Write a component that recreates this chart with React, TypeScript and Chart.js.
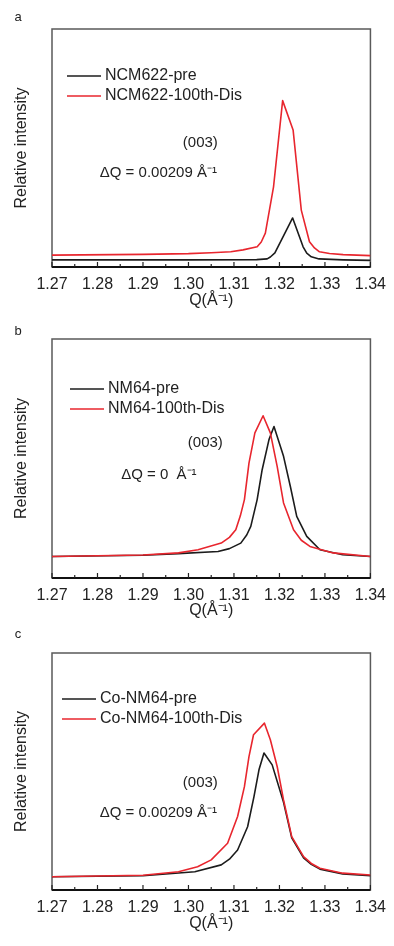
import React, { useEffect, useRef } from "react";
import { Chart, registerables } from "chart.js";

Chart.register(...registerables);

const FONT = "'Liberation Sans', Arial, Helvetica, sans-serif";

// ---- tick labels ----
const xTicks = [1.27, 1.28, 1.29, 1.3, 1.31, 1.32, 1.33, 1.34];
const xTickLabels = ["1.27", "1.28", "1.29", "1.30", "1.31", "1.32", "1.33", "1.34"];

// ---- panel a: NCM622 ----
const qA_pre = [1.27, 1.3, 1.315, 1.3173, 1.318, 1.319, 1.3229, 1.3252, 1.326, 1.327, 1.3287, 1.334, 1.34];
const iA_pre = [0.03, 0.03, 0.031, 0.034, 0.042, 0.059, 0.206, 0.085, 0.058, 0.043, 0.034, 0.03, 0.028];
const qA_dis = [1.27, 1.29, 1.3, 1.305, 1.3093, 1.312, 1.3151, 1.316, 1.3169, 1.3187, 1.3207, 1.323, 1.3248, 1.3266, 1.3277, 1.3288, 1.331, 1.334, 1.34];
const iA_dis = [0.05, 0.053, 0.056, 0.06, 0.064, 0.072, 0.085, 0.105, 0.142, 0.337, 0.699, 0.576, 0.239, 0.106, 0.08, 0.064, 0.057, 0.052, 0.048];

// ---- panel b: NM64 ----
const qB_pre = [1.27, 1.29, 1.2978, 1.3065, 1.309, 1.3115, 1.3128, 1.3137, 1.3151, 1.3162, 1.3177, 1.3188, 1.3209, 1.3224, 1.3238, 1.326, 1.3289, 1.3339, 1.34];
const iB_pre = [0.09, 0.095, 0.102, 0.111, 0.123, 0.146, 0.18, 0.216, 0.328, 0.453, 0.579, 0.634, 0.509, 0.383, 0.258, 0.174, 0.118, 0.097, 0.09];
const qB_dis = [1.27, 1.29, 1.2978, 1.3021, 1.3072, 1.309, 1.3104, 1.3114, 1.3123, 1.3133, 1.3146, 1.3164, 1.318, 1.3195, 1.3209, 1.3231, 1.3248, 1.3267, 1.3318, 1.34];
const iB_dis = [0.09, 0.096, 0.105, 0.118, 0.146, 0.17, 0.202, 0.26, 0.328, 0.481, 0.607, 0.679, 0.607, 0.467, 0.314, 0.202, 0.158, 0.132, 0.105, 0.09];

// ---- panel c: Co-NM64 ----
const qC_pre = [1.27, 1.29, 1.3014, 1.3072, 1.309, 1.3108, 1.313, 1.3144, 1.3155, 1.3166, 1.3184, 1.3209, 1.3227, 1.3253, 1.327, 1.3289, 1.3339, 1.34];
const iC_pre = [0.056, 0.06, 0.077, 0.106, 0.13, 0.169, 0.267, 0.394, 0.507, 0.578, 0.528, 0.37, 0.22, 0.136, 0.108, 0.088, 0.068, 0.06];
const qC_dis = [1.27, 1.29, 1.2978, 1.302, 1.305, 1.3086, 1.3108, 1.3123, 1.3133, 1.3143, 1.3167, 1.318, 1.3195, 1.3209, 1.3227, 1.3253, 1.327, 1.3289, 1.3339, 1.34];
const iC_dis = [0.056, 0.062, 0.077, 0.098, 0.127, 0.197, 0.31, 0.436, 0.563, 0.655, 0.704, 0.634, 0.521, 0.38, 0.225, 0.141, 0.112, 0.092, 0.071, 0.063];

// ---- labels ----
const panelLetters = ["a", "b", "c"];
const preLabels = ["NCM622-pre", "NM64-pre", "Co-NM64-pre"];
const disLabels = ["NCM622-100th-Dis", "NM64-100th-Dis", "Co-NM64-100th-Dis"];
const peakLabel = "(003)";
const deltaLabels = ["ΔQ = 0.00209 Å⁻¹", "ΔQ = 0  Å⁻¹", "ΔQ = 0.00209 Å⁻¹"];

const BLACK = "#1c1c1c";
const RED = "#e8262e";

type Layout = {
  top: number;
  height: number;
  padTop: number;
  padBottom: number;
  xAxisH: number;
  letterY: number;
  legendDx: number;
  legendDy: number;
  peakAt: [number, number];
  deltaAt: [number, number];
};

const layouts: Layout[] = [
  { top: 0, height: 310, padTop: 29, padBottom: 0, xAxisH: 43, letterY: 17, legendDx: 15, legendDy: 47, peakAt: [1.3026, 0.52], deltaAt: [1.2805, 0.395] },
  { top: 310, height: 310, padTop: 29, padBottom: 0, xAxisH: 42, letterY: 21, legendDx: 18, legendDy: 50, peakAt: [1.3037, 0.565], deltaAt: [1.2852, 0.431] },
  { top: 620, height: 326, padTop: 33, padBottom: 13, xAxisH: 43, letterY: 14, legendDx: 10, legendDy: 46, peakAt: [1.3026, 0.452], deltaAt: [1.2805, 0.325] },
];

const seriesData = [
  [qA_pre, iA_pre, qA_dis, iA_dis],
  [qB_pre, iB_pre, qB_dis, iB_dis],
  [qC_pre, iC_pre, qC_dis, iC_dis],
];

function toPts(q: number[], v: number[]) {
  return q.map((x, i) => ({ x, y: v[i] }));
}

function makeDecor(idx: number) {
  const L = layouts[idx];
  return {
    id: "decor" + idx,
    beforeDatasetsDraw(chart: any) {
      const { ctx, chartArea: ca } = chart;
      ctx.save();
      ctx.strokeStyle = "#5a5a5a";
      ctx.lineWidth = 1.5;
      ctx.strokeRect(ca.left, ca.top, ca.right - ca.left, ca.bottom - ca.top);
      ctx.restore();
    },
    afterDraw(chart: any) {
      const { ctx, chartArea: ca, scales } = chart;
      const xs = scales.x;
      const ys = scales.y;
      ctx.save();
      // bottom axis line
      ctx.strokeStyle = "#111";
      ctx.lineWidth = 2;
      ctx.beginPath();
      ctx.moveTo(ca.left, ca.bottom);
      ctx.lineTo(ca.right, ca.bottom);
      ctx.stroke();
      // inward ticks (major + minor)
      ctx.lineWidth = 1.2;
      ctx.strokeStyle = "#222";
      for (let i = 0; i < xTicks.length; i++) {
        const px = xs.getPixelForValue(xTicks[i]);
        ctx.beginPath();
        ctx.moveTo(px, ca.bottom);
        ctx.lineTo(px, ca.bottom - 5);
        ctx.stroke();
        if (i < xTicks.length - 1) {
          const mx = xs.getPixelForValue((xTicks[i] + xTicks[i + 1]) / 2);
          ctx.beginPath();
          ctx.moveTo(mx, ca.bottom);
          ctx.lineTo(mx, ca.bottom - 3);
          ctx.stroke();
        }
      }
      // legend
      ctx.font = `16px ${FONT}`;
      ctx.textBaseline = "middle";
      ctx.textAlign = "left";
      chart.data.datasets.forEach((ds: any, i: number) => {
        const y = ca.top + L.legendDy + i * 20;
        const x0 = ca.left + L.legendDx;
        ctx.strokeStyle = ds.borderColor;
        ctx.lineWidth = 1.6;
        ctx.beginPath();
        ctx.moveTo(x0, y);
        ctx.lineTo(x0 + 34, y);
        ctx.stroke();
        ctx.fillStyle = "#222";
        ctx.fillText(ds.label, x0 + 38, y);
      });
      // annotations
      ctx.font = `15px ${FONT}`;
      ctx.fillStyle = "#222";
      ctx.textAlign = "center";
      ctx.fillText(peakLabel, xs.getPixelForValue(L.peakAt[0]), ys.getPixelForValue(L.peakAt[1]));
      ctx.textAlign = "left";
      ctx.fillText(deltaLabels[idx], xs.getPixelForValue(L.deltaAt[0]), ys.getPixelForValue(L.deltaAt[1]));
      // panel letter
      ctx.font = `13px ${FONT}`;
      ctx.textAlign = "center";
      ctx.fillText(panelLetters[idx], 18, L.letterY);
      ctx.restore();
    },
  };
}

function Panel({ idx }: { idx: number }) {
  const ref = useRef<HTMLCanvasElement | null>(null);
  const L = layouts[idx];
  useEffect(() => {
    if (!ref.current) return;
    const [qp, ip, qd, id] = seriesData[idx];
    const lineOpts = { borderWidth: 1.6, pointRadius: 0, tension: 0, borderJoinStyle: "round" };
    const chart = new Chart(ref.current, {
      type: "line",
      data: {
        datasets: [
          { label: preLabels[idx], data: toPts(qp, ip), borderColor: BLACK, order: 1, ...lineOpts },
          { label: disLabels[idx], data: toPts(qd, id), borderColor: RED, order: 0, ...lineOpts },
        ],
      },
      options: {
        responsive: false,
        animation: false,
        events: [],
        layout: { padding: { left: 0, right: 19, top: L.padTop, bottom: L.padBottom } },
        plugins: { legend: { display: false }, tooltip: { enabled: false } },
        scales: {
          x: {
            type: "linear",
            min: 1.27,
            max: 1.34,
            afterBuildTicks: (scale: any) => {
              scale.ticks = xTicks.map((v) => ({ value: v }));
            },
            afterFit: (scale: any) => {
              scale.height = L.xAxisH;
            },
            grid: { display: false, drawTicks: false },
            border: { display: false },
            ticks: {
              autoSkip: false,
              maxRotation: 0,
              padding: 8,
              color: "#222",
              font: { family: FONT, size: 16 },
              callback: (_v: any, i: number) => xTickLabels[i],
            },
            title: {
              display: true,
              text: "Q(Å⁻¹)",
              color: "#222",
              font: { family: FONT, size: 16 },
              padding: { top: 0, bottom: 0 },
            },
          },
          y: {
            min: 0,
            max: 1,
            afterFit: (scale: any) => {
              scale.width = 52;
            },
            grid: { display: false, drawTicks: false },
            border: { display: false },
            ticks: { display: false },
            title: {
              display: true,
              text: "Relative intensity",
              color: "#222",
              font: { family: FONT, size: 16 },
              padding: { top: 12, bottom: 0 },
            },
          },
        },
      },
      plugins: [makeDecor(idx)],
    } as any);
    return () => chart.destroy();
  }, [idx]);
  return (
    <canvas
      ref={ref}
      width={394}
      height={L.height}
      style={{ position: "absolute", left: 0, top: L.top, width: 394, height: L.height }}
    />
  );
}

export default function App() {
  return (
    <div style={{ position: "absolute", left: 0, top: 0, width: 394, height: 946, background: "#fff" }}>
      {layouts.map((_, i) => (
        <Panel key={i} idx={i} />
      ))}
    </div>
  );
}
